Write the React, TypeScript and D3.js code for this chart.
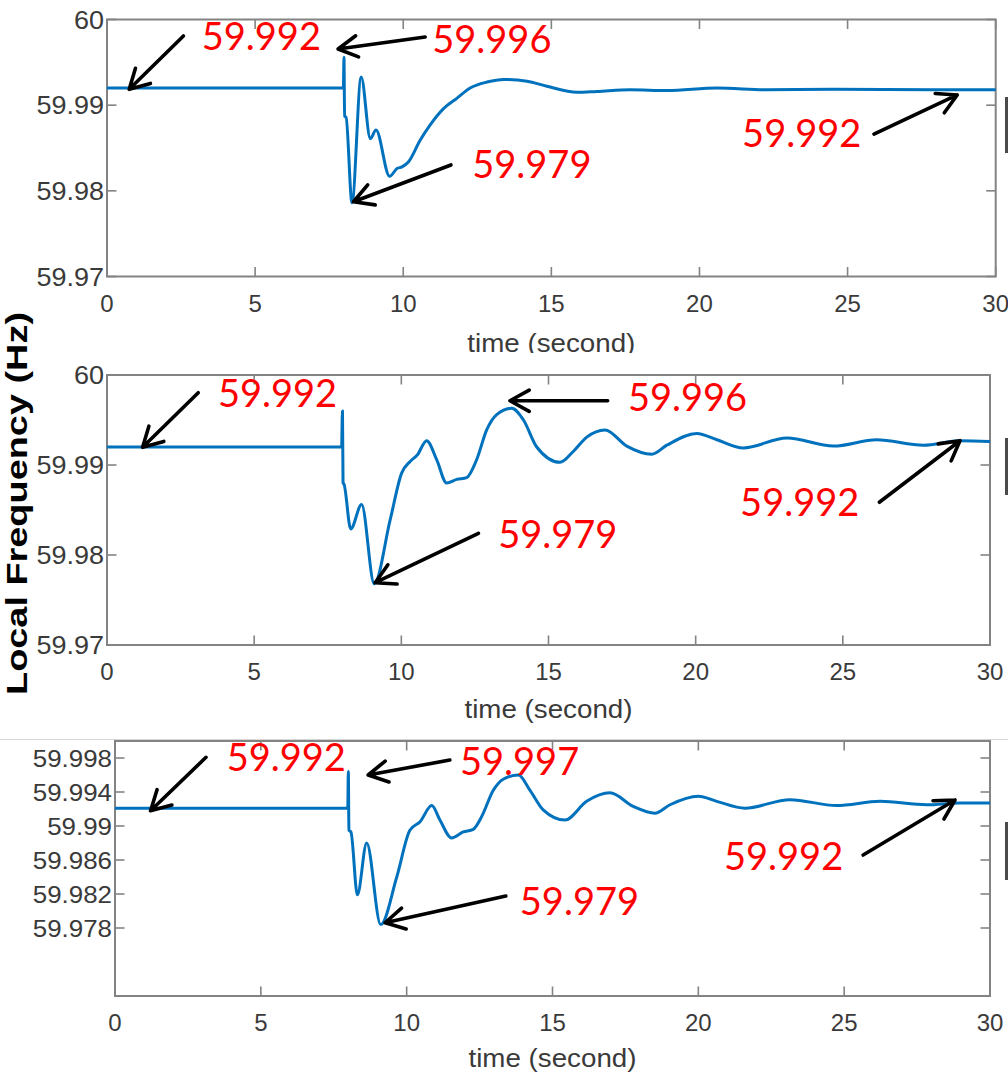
import React from "react";
import * as d3 from "d3";

// ---------- data ----------
const xTicks = [0, 5, 10, 15, 20, 25, 30];
const yTicksA = [59.97, 59.98, 59.99, 60];
const yTickLabelsA = ["59.97", "59.98", "59.99", "60"];
const yTicksB = [59.978, 59.982, 59.986, 59.99, 59.994, 59.998];
const yTickLabelsB = ["59.978", "59.982", "59.986", "59.99", "59.994", "59.998"];
const xLabel = "time (second)";
const yLabel = "Local Frequency (Hz)";

const p1Time = [0, 7.98, 8.0, 8.02, 8.07, 8.27, 8.58, 8.89, 9.08, 9.54, 9.79, 9.96, 10.18, 10.57, 10.91, 11.36, 11.81, 12.26, 12.83, 13.39, 14.18, 14.85, 15.87, 16.54, 17.67, 18.91, 20.6, 22.29, 24.53, 27.9, 30];
const p1Freq = [59.992, 59.992, 59.9956, 59.9887, 59.9886, 59.9786, 59.9933, 59.9861, 59.9871, 59.9817, 59.9826, 59.9828, 59.9834, 59.9859, 59.9877, 59.9896, 59.9908, 59.992, 59.9927, 59.993, 59.9928, 59.9922, 59.9915, 59.9916, 59.9918, 59.9917, 59.992, 59.9918, 59.99185, 59.9918, 59.9918];

const p2Time = [0, 7.97, 8.0, 8.02, 8.05, 8.28, 8.65, 9.08, 9.62, 10.01, 10.3, 10.54, 10.86, 11.2, 11.54, 11.88, 12.22, 12.56, 12.9, 13.24, 13.75, 14.15, 14.6, 15.39, 15.84, 16.3, 16.92, 17.66, 18.51, 19.02, 20.04, 20.72, 21.62, 23.1, 24.68, 26.15, 27.74, 28.98, 30];
const p2Freq = [59.992, 59.992, 59.996, 59.988, 59.9879, 59.9829, 59.9856, 59.9768, 59.9839, 59.9891, 59.9904, 59.9911, 59.9927, 59.9906, 59.988, 59.9884, 59.9886, 59.9906, 59.9939, 59.9956, 59.9963, 59.995, 59.992, 59.9903, 59.9915, 59.9931, 59.9939, 59.9921, 59.9912, 59.9922, 59.9935, 59.9928, 59.9919, 59.993, 59.9921, 59.9928, 59.9922, 59.9927, 59.9926];

const p3Time = [0, 7.98, 8.0, 8.02, 8.09, 8.31, 8.63, 9.11, 9.66, 10.11, 10.46, 10.86, 11.14, 11.54, 11.94, 12.28, 12.57, 12.97, 13.31, 13.83, 14.23, 14.68, 15.43, 16.17, 16.97, 17.77, 18.51, 19.03, 20.0, 20.63, 21.6, 23.14, 24.74, 26.23, 27.83, 28.97, 30];
const p3Freq = [59.9921, 59.9921, 59.9964, 59.9895, 59.9893, 59.9819, 59.988, 59.9784, 59.984, 59.9895, 59.9905, 59.9924, 59.9907, 59.9886, 59.9893, 59.9896, 59.9911, 59.9942, 59.9955, 59.996, 59.9942, 59.9919, 59.9907, 59.9929, 59.9939, 59.9923, 59.9915, 59.9925, 59.9935, 59.9929, 59.9921, 59.9931, 59.9924, 59.9929, 59.9925, 59.9927, 59.9927];

// annotations: label text, label position (t, f) = left/baseline, arrow tail (t,f) -> head (t,f)
const p1NoteText = ["59.992", "59.996", "59.979", "59.992"];
const p1NotePos = [[3.2, 59.99644], [10.98, 59.99609], [12.33, 59.9815], [21.44, 59.98515]];
const p1ArrowFrom = [[2.58, 59.99807], [10.74, 59.99796], [11.61, 59.98302], [25.89, 59.98663]];
const p1ArrowTo = [[0.75, 59.99185], [7.8, 59.99656], [8.32, 59.97873], [28.7, 59.99119]];

const p2NoteText = ["59.992", "59.996", "59.979", "59.992"];
const p2NotePos = [[3.77, 59.99644], [17.7, 59.996], [13.29, 59.98078], [21.51, 59.98433]];
const p2ArrowFrom = [[3.1, 59.99803], [17.01, 59.99714], [12.62, 59.98241], [26.24, 59.98586]];
const p2ArrowTo = [[1.21, 59.99197], [13.69, 59.99714], [9.11, 59.97692], [28.98, 59.9927]];

const p3NoteText = ["59.992", "59.997", "59.979", "59.992"];
const p3NotePos = [[3.83, 59.99647], [11.83, 59.996], [13.88, 59.97953], [20.88, 59.98482]];
const p3ArrowFrom = [[3.12, 59.99808], [11.48, 59.99776], [13.4, 59.98176], [25.65, 59.98659]];
const p3ArrowTo = [[1.22, 59.9918], [8.68, 59.996], [9.26, 59.97862], [28.8, 59.99306]];

// ---------- layout ----------
const W = 1008;
const H = 1076;
const LINE = "#0072BD";
const AX = "#838383";
const TXT = "#3a3a3a";
const SANS = "'Liberation Sans', Arial, Helvetica, sans-serif";
const NOTE_FONT = "Lato, 'Open Sans', sans-serif";

const panels = [
  {
    id: "p1", left: 107, right: 995.7, top: 19.5, bottom: 276.5,
    time: p1Time, freq: p1Freq, yTicks: yTicksA, yLabels: yTickLabelsA, yFont: 25,
    xTickBase: 312, xLabelBase: 352, clipBottom: 353, edgeMark: [97, 153],
    noteText: p1NoteText, notePos: p1NotePos, from: p1ArrowFrom, to: p1ArrowTo,
  },
  {
    id: "p2", left: 107, right: 990, top: 375, bottom: 645,
    time: p2Time, freq: p2Freq, yTicks: yTicksA, yLabels: yTickLabelsA, yFont: 25,
    xTickBase: 680, xLabelBase: 718, clipBottom: 739, edgeMark: [438, 495],
    noteText: p2NoteText, notePos: p2NotePos, from: p2ArrowFrom, to: p2ArrowTo,
  },
  {
    id: "p3", left: 115, right: 990, top: 741, bottom: 996,
    time: p3Time, freq: p3Freq, yTicks: yTicksB, yLabels: yTickLabelsB, yFont: 24,
    xTickBase: 1031, xLabelBase: 1067, clipBottom: 1076, edgeMark: [822, 880],
    noteText: p3NoteText, notePos: p3NotePos, from: p3ArrowFrom, to: p3ArrowTo,
  },
];

function arrowPath(x1: number, y1: number, x2: number, y2: number) {
  const a = Math.atan2(y2 - y1, x2 - x1);
  const L = 22;
  const th = (29 * Math.PI) / 180;
  const ax1 = x2 - L * Math.cos(a - th);
  const ay1 = y2 - L * Math.sin(a - th);
  const ax2 = x2 - L * Math.cos(a + th);
  const ay2 = y2 - L * Math.sin(a + th);
  return `M${x1},${y1}L${x2},${y2}M${ax1},${ay1}L${x2},${y2}L${ax2},${ay2}`;
}

function Panel({ cfg }: { cfg: any }) {
  const x = d3.scaleLinear().domain([0, 30]).range([cfg.left, cfg.right]);
  const y = d3.scaleLinear().domain([59.97, 60]).range([cfg.bottom, cfg.top]);
  const pts: [number, number][] = cfg.time.map((t: number, i: number) => [t, cfg.freq[i]]);
  const line = d3
    .line<[number, number]>()
    .x((d) => x(d[0]))
    .y((d) => y(d[1]))
    .curve(d3.curveMonotoneX);
  const tickLen = 9.5;
  const cx = (cfg.left + cfg.right) / 2;
  return (
    <g>
      <defs>
        <clipPath id={`clip-${cfg.id}`}>
          <rect x={0} y={0} width={W} height={cfg.clipBottom} />
        </clipPath>
      </defs>
      {/* axes box */}
      <rect x={cfg.left} y={cfg.top} width={cfg.right - cfg.left} height={cfg.bottom - cfg.top} fill="none" stroke={AX} strokeWidth={2} />
      {xTicks.map((t) => (
        <g key={`xt${t}`}>
          <line x1={x(t)} x2={x(t)} y1={cfg.bottom} y2={cfg.bottom - tickLen} stroke={AX} strokeWidth={1.6} />
          <line x1={x(t)} x2={x(t)} y1={cfg.top} y2={cfg.top + tickLen} stroke={AX} strokeWidth={1.6} />
          <text x={x(t)} y={cfg.xTickBase} textAnchor="middle" fontFamily={SANS} fontSize={24} fill={TXT}>
            {t}
          </text>
        </g>
      ))}
      {cfg.yTicks.map((v: number, i: number) => (
        <g key={`yt${i}`}>
          <line x1={cfg.left} x2={cfg.left + tickLen} y1={y(v)} y2={y(v)} stroke={AX} strokeWidth={1.6} />
          <line x1={cfg.right} x2={cfg.right - tickLen} y1={y(v)} y2={y(v)} stroke={AX} strokeWidth={1.6} />
          <text
            transform={`translate(${cfg.left - 3},${y(v)}) scale(1.08,1)`}
            dy="0.36em"
            textAnchor="end"
            fontFamily={SANS}
            fontSize={cfg.yFont}
            fill={TXT}
          >
            {cfg.yLabels[i]}
          </text>
        </g>
      ))}
      <g clipPath={`url(#clip-${cfg.id})`}>
        <text
          x={cx}
          y={cfg.xLabelBase}
          textAnchor="middle"
          fontFamily={SANS}
          fontSize={25}
          fill={TXT}
          textLength={168}
          lengthAdjust="spacingAndGlyphs"
        >
          {xLabel}
        </text>
      </g>
      {/* data line */}
      <path d={line(pts) || ""} fill="none" stroke={LINE} strokeWidth={3} strokeLinejoin="round" />
      {/* annotations */}
      {cfg.noteText.map((s: string, i: number) => (
        <g key={`n${i}`}>
          <path
            d={arrowPath(x(cfg.from[i][0]), y(cfg.from[i][1]), x(cfg.to[i][0]), y(cfg.to[i][1]))}
            fill="none"
            stroke="#000"
            strokeWidth={3.6}
            strokeLinecap="round"
            strokeLinejoin="round"
          />
          <text x={x(cfg.notePos[i][0])} y={y(cfg.notePos[i][1])} fontFamily={NOTE_FONT} fontSize={38} fill="#ff0000">
            {s}
          </text>
        </g>
      ))}
      {/* cut-off box edge at the right border */}
      <line x1={1006.5} x2={1006.5} y1={cfg.edgeMark[0]} y2={cfg.edgeMark[1]} stroke="#4a4a4a" strokeWidth={3} />
    </g>
  );
}

export default function App() {
  return (
    <svg
      width={W}
      height={H}
      viewBox={`0 0 ${W} ${H}`}
      style={{ position: "absolute", left: 0, top: 0, display: "block", background: "#fff" }}
    >
      <rect x={0} y={0} width={W} height={H} fill="#fff" />
      <line x1={0} x2={W} y1={739.5} y2={739.5} stroke="#d6d6d6" strokeWidth={1} />
      {panels.map((p) => (
        <Panel key={p.id} cfg={p} />
      ))}
      <text
        transform="translate(27,503.5) rotate(-90)"
        textAnchor="middle"
        fontFamily={SANS}
        fontWeight="bold"
        fontSize={30}
        fill="#000"
        textLength={383}
        lengthAdjust="spacingAndGlyphs"
      >
        {yLabel}
      </text>
    </svg>
  );
}
